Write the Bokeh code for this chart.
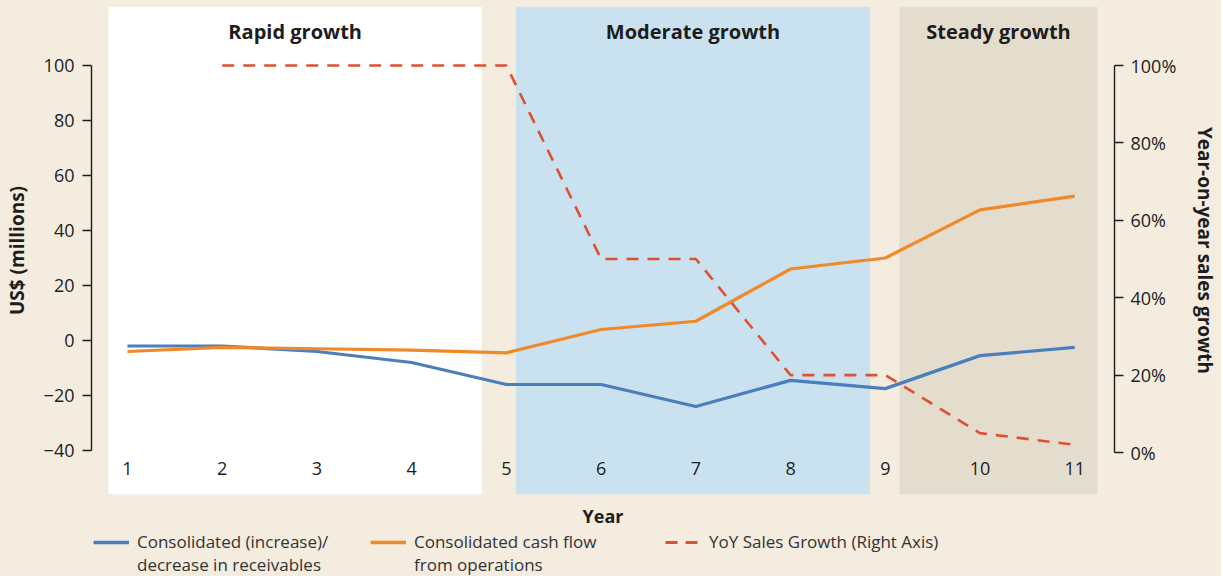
from bokeh.plotting import figure
from bokeh.layouts import column
from bokeh.models import (Range1d, LinearAxis, FixedTicker, BoxAnnotation,
                          Legend, LegendItem)
from bokeh.core.properties import value
from bokeh.embed import file_html
from bokeh.resources import INLINE

# ---------------- data ----------------
years = [1, 2, 3, 4, 5, 6, 7, 8, 9, 10, 11]
receivables = [-2, -2, -4, -8, -16, -16, -24, -14.5, -17.5, -5.5, -2.5]
cash_flow = [-4, -2.5, -3, -3.5, -4.5, 4, 7, 26, 30, 47.5, 52.5]
growth_years = [2, 3, 4, 5, 6, 7, 8, 9, 10, 11]
yoy_growth = [100, 100, 100, 100, 50, 50, 20, 20, 5, 2]

phase_names = ["Rapid growth", "Moderate growth", "Steady growth"]
phase_start = [0.80, 5.10, 9.15]
phase_end = [4.74, 8.84, 11.24]
phase_colors = ["#ffffff", "#cae1ef", "#e4ddcd"]

left_ticks = [-40, -20, 0, 20, 40, 60, 80, 100]
right_ticks = [0, 20, 40, 60, 80, 100]

legend_first = ["Consolidated (increase)/", "Consolidated cash flow",
                "YoY Sales Growth (Right Axis)"]
legend_second = ["decrease in receivables", "from operations"]

BG = "#f3ecdf"
FONT = "Open Sans"
TXT = "#1e1c1d"
C_BLUE, C_ORANGE, C_RED = "#4a7ebd", "#f0892a", "#dd5131"

p = figure(frame_width=1023, frame_height=488, output_backend="svg",
           toolbar_location=None,
           x_range=Range1d(0.62, 11.42), y_range=Range1d(-56, 121.45),
           min_border_left=91, min_border_right=101, min_border_top=6,
           min_border_bottom=35)
p.border_fill_color = BG
p.background_fill_color = BG
p.outline_line_color = None
p.grid.visible = False
p.extra_y_ranges = {"g": Range1d(-10.85, 115.25)}

# phase backgrounds
for s, e, c in zip(phase_start, phase_end, phase_colors):
    p.add_layout(BoxAnnotation(left=s, right=e, fill_color=c, fill_alpha=1.0,
                               line_alpha=0, level="underlay"))

centers = [(s + e) / 2 for s, e in zip(phase_start, phase_end)]
p.text(x=centers, y=[112.3] * 3, text=phase_names, text_align="center",
       text_baseline="middle", text_font=value(FONT), text_font_style="bold",
       text_font_size="20px", text_color=TXT)

r1 = p.line(years, receivables, line_color=C_BLUE, line_width=3.2)
r2 = p.line(years, cash_flow, line_color=C_ORANGE, line_width=3.2)
r3 = p.line(growth_years, yoy_growth, y_range_name="g", line_color=C_RED,
            line_width=2.6, line_dash="12 9")

# x tick labels sit inside the frame, drawn through the data scale
p.text(x=years, y=[-46.5] * len(years), text=[str(y) for y in years],
       text_align="center", text_baseline="middle", text_font=value(FONT),
       text_font_size="18px", text_color=TXT)

# axes
xa = p.xaxis[0]
xa.ticker = FixedTicker(ticks=[])
xa.axis_line_color = None
xa.major_tick_line_color = None
xa.minor_tick_line_color = None
xa.major_tick_out = 0
xa.major_label_standoff = 0
xa.axis_label = "Year"
xa.axis_label_text_font = FONT
xa.axis_label_text_font_style = "bold"
xa.axis_label_text_font_size = "18px"
xa.axis_label_text_color = TXT
xa.axis_label_standoff = 9

ya = p.yaxis[0]
ya.ticker = FixedTicker(ticks=left_ticks)
ya.bounds = (-40, 100)
ya.major_label_overrides = {v: (f"\u2212{abs(v)}" if v < 0 else str(v)) for v in left_ticks}
ya.major_tick_in = 0
ya.major_tick_out = 9
ya.minor_tick_line_color = None
ya.axis_line_width = 1.4
ya.major_tick_line_width = 1.4
ya.axis_line_color = TXT
ya.major_tick_line_color = TXT
ya.major_label_standoff = 8
ya.major_label_text_font = FONT
ya.major_label_text_font_size = "18px"
ya.major_label_text_color = TXT
ya.axis_label = "US$ (millions)"
ya.axis_label_text_font = FONT
ya.axis_label_text_font_style = "bold"
ya.axis_label_text_font_size = "19px"
ya.axis_label_text_color = TXT
ya.axis_label_standoff = 11

ra = LinearAxis(y_range_name="g", ticker=FixedTicker(ticks=right_ticks))
ra.bounds = (0, 100)
ra.major_label_overrides = {v: f"{v}%" for v in right_ticks}
ra.major_tick_in = 0
ra.major_tick_out = 9
ra.minor_tick_line_color = None
ra.axis_line_width = 1.4
ra.major_tick_line_width = 1.4
ra.axis_line_color = TXT
ra.major_tick_line_color = TXT
ra.major_label_standoff = 7
ra.major_label_text_font = FONT
ra.major_label_text_font_size = "18px"
ra.major_label_text_color = TXT
ra.axis_label = "Year-on-year sales growth"
ra.axis_label_text_font = FONT
ra.axis_label_text_font_style = "bold"
ra.axis_label_text_font_size = "19px"
ra.axis_label_text_color = TXT
ra.axis_label_standoff = 13
p.add_layout(ra, "right")

# ---------------- legend strip ----------------
q = figure(width=1215, height=46, output_backend="svg", toolbar_location=None,
           x_range=Range1d(0, 1), y_range=Range1d(0, 1), min_border=0,
           x_axis_location=None, y_axis_location=None)
q.border_fill_color = BG
q.background_fill_color = BG
q.outline_line_color = None
q.grid.visible = False

# legend-only sample lines (kept outside the strip's visible range)
off = [-5, -4]
k1 = q.line(off, off, line_color=C_BLUE, line_width=3.6)
k2 = q.line(off, off, line_color=C_ORANGE, line_width=3.6)
k3 = q.line(off, off, line_color=C_RED, line_width=3.2, line_dash="12 8")
blanks = [q.line(off, off, line_alpha=0) for _ in legend_second]
item_x = [2, 279, 574]   # offsets from the (aligned) frame left edge


def add_legend(label, renderer, x, y):
    lg = Legend(items=[LegendItem(label=label, renderers=[renderer])],
                location=(x, y), orientation="horizontal",
                padding=0, margin=0, spacing=0, glyph_width=36, glyph_height=20,
                label_standoff=8, label_height=20,
                border_line_alpha=0, background_fill_alpha=0,
                label_text_font=FONT, label_text_font_size="17px",
                label_text_color="#333333")
    q.add_layout(lg, "center")


for lab, r, x in zip(legend_first, [k1, k2, k3], item_x):
    add_legend(lab, r, x, 23)
for lab, r, x in zip(legend_second, blanks, item_x):
    add_legend(lab, r, x, 0)

layout = column(p, q, spacing=0, styles={"background-color": BG})
html = file_html(layout, INLINE)
html = html.replace("<body>", '<body style="background-color:#f3ecdf;">', 1)
open("out.html", "w").write(html)
